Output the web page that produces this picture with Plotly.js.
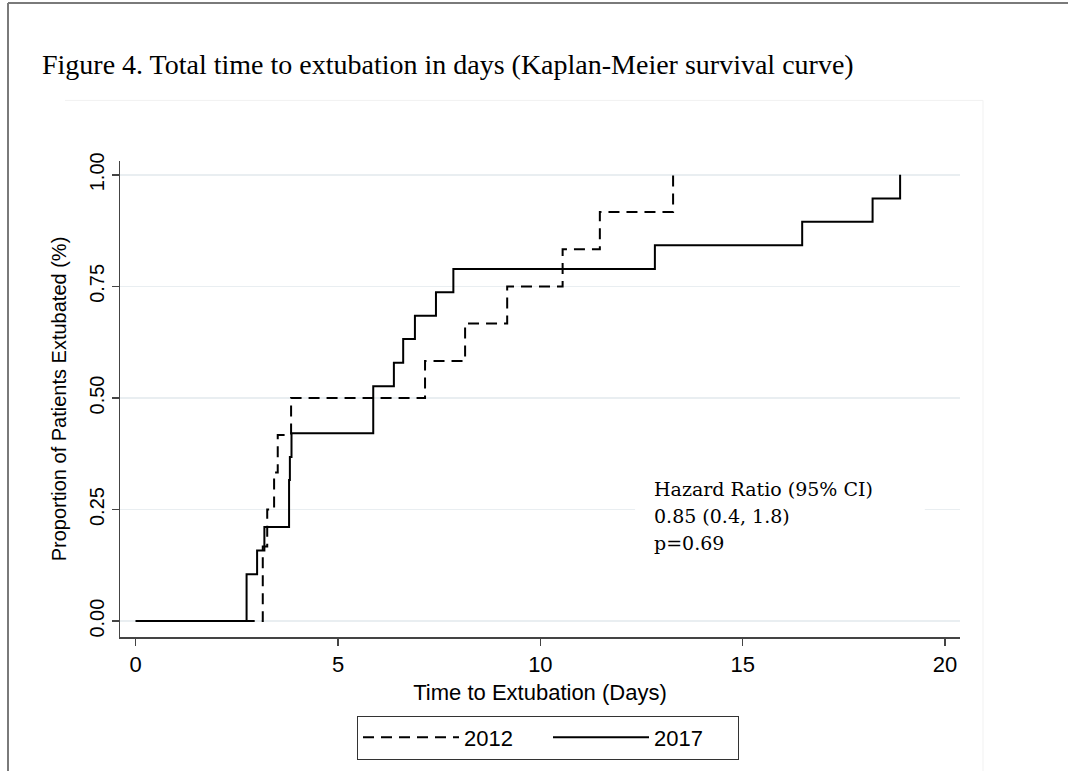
<!DOCTYPE html>
<html>
<head>
<meta charset="utf-8">
<script src="https://cdn.plot.ly/plotly-3.0.1.min.js"></script>
<style>
html,body{margin:0;padding:0;background:#fff;}
#chart{width:1071px;height:771px;}
</style>
</head>
<body>
<div id="chart"></div>
<script>
// Kaplan-Meier step data (days, cumulative proportion extubated)
const days2012 = [0, 3.14, 3.25, 3.42, 3.51, 3.84, 7.15, 8.14, 9.18, 10.55, 11.47, 13.28];
const prop2012 = [0, 0.167, 0.250, 0.333, 0.417, 0.500, 0.583, 0.667, 0.750, 0.833, 0.917, 1.000];

const days2017 = [0, 2.74, 3.00, 3.18, 3.79, 3.81, 3.85, 5.87, 6.38, 6.61, 6.90, 7.42, 7.85, 12.83, 16.47, 18.21, 18.89];
const prop2017 = [0, 0.105, 0.158, 0.211, 0.316, 0.368, 0.421, 0.526, 0.579, 0.632, 0.684, 0.737, 0.789, 0.842, 0.895, 0.947, 1.000];

const seriesNames = ['2012', '2017'];
const xTicks = [0, 5, 10, 15, 20];
const yTicks = [0, 0.25, 0.5, 0.75, 1.0];
const yTickText = ['0.00', '0.25', '0.50', '0.75', '1.00'];
const statLines = ['Hazard Ratio (95% CI)', '0.85 (0.4, 1.8)', 'p=0.69'];
const statY = [0.296, 0.236, 0.174];

const W = 1071, H = 771;
const L = 120, R = 111, T = 161, B = 131;
const pw = W - L - R, ph = H - T - B;
const px = v => (v - L) / pw;          // pixel -> paper x
const py = v => (H - B - v) / ph;      // pixel -> paper y

const sans = 'Liberation Sans, Arial, Helvetica, sans-serif';

const traces = [
  {x: days2012, y: prop2012, name: seriesNames[0], type: 'scatter', mode: 'lines',
   line: {shape: 'hv', color: '#000', width: 2, dash: '11px,7px'}},
  {x: days2017, y: prop2017, name: seriesNames[1], type: 'scatter', mode: 'lines',
   line: {shape: 'hv', color: '#000', width: 2}}
];

const annotations = statLines.map((t, i) => ({
  text: t, xref: 'x', yref: 'y', x: 12.75, y: statY[i],
  xanchor: 'left', yanchor: 'middle', showarrow: false,
  font: {family: 'DejaVu Serif, serif', size: 19, color: '#000'}
}));

const shapes = [
  // white box behind the statistics text (hides grid line)
  {type: 'rect', xref: 'x', yref: 'y', x0: 12.34, x1: 19.5, y0: 0.138, y1: 0.325,
   fillcolor: '#fff', line: {width: 0}, layer: 'between'},
  // outer figure frame (left + top)
  {type: 'line', xref: 'paper', yref: 'paper', x0: px(8), x1: px(8), y0: py(2), y1: py(800),
   line: {color: '#7a7a7a', width: 2}},
  {type: 'line', xref: 'paper', yref: 'paper', x0: px(8), x1: px(1068), y0: py(2), y1: py(2),
   line: {color: '#7a7a7a', width: 2}},
  // faint graph-region outline
  {type: 'line', xref: 'paper', yref: 'paper', x0: px(65), x1: px(983), y0: py(100), y1: py(100),
   line: {color: '#f1f1f1', width: 1}},
  {type: 'line', xref: 'paper', yref: 'paper', x0: px(983), x1: px(983), y0: py(100), y1: py(800),
   line: {color: '#f1f1f1', width: 1}}
];

const layout = {
  width: W, height: H,
  margin: {l: L, r: R, t: T, b: B, pad: 0},
  paper_bgcolor: '#fff', plot_bgcolor: '#fff',
  font: {family: sans, size: 22, color: '#000'},
  title: {
    text: 'Figure 4. Total time to extubation in days (Kaplan-Meier survival curve)',
    font: {family: 'Liberation Serif, Times New Roman, serif', size: 28, color: '#000'},
    xref: 'container', yref: 'container', x: 42 / W, xanchor: 'left',
    y: 1 - 64 / H, yanchor: 'middle'
  },
  xaxis: {
    range: [-0.388, 20.37], tickvals: xTicks, ticktext: xTicks.map(String),
    showline: true, linecolor: '#444', linewidth: 1.5,
    ticks: 'outside', ticklen: 7, tickwidth: 1.5, tickcolor: '#444',
    showgrid: false, zeroline: false,
    tickfont: {family: sans, size: 22, color: '#000'},
    title: {text: 'Time to Extubation (Days)', font: {family: sans, size: 22, color: '#000'}, standoff: 8}
  },
  yaxis: {
    range: [-0.0356, 1.031], tickvals: yTicks, ticktext: yTickText,
    tickangle: -90,
    showline: true, linecolor: '#444', linewidth: 1.5,
    ticks: 'outside', ticklen: 7, tickwidth: 1.5, tickcolor: '#444',
    showgrid: true, gridcolor: '#e9eef1', gridwidth: 1.5, zeroline: false,
    tickfont: {family: sans, size: 20, color: '#000'},
    title: {text: 'Proportion of Patients Extubated (%)', font: {family: sans, size: 20, color: '#000'}, standoff: 13}
  },
  showlegend: true,
  legend: {
    orientation: 'h', x: px(357), xanchor: 'left', y: py(719), yanchor: 'top',
    bordercolor: '#333', borderwidth: 1, bgcolor: '#fff',
    font: {family: sans, size: 22, color: '#000'},
    itemwidth: 96, entrywidth: 79, entrywidthmode: 'pixels', traceorder: 'normal'
  },
  annotations: annotations,
  shapes: shapes
};

Plotly.newPlot('chart', traces, layout, {displayModeBar: false, staticPlot: true});
</script>
</body>
</html>
